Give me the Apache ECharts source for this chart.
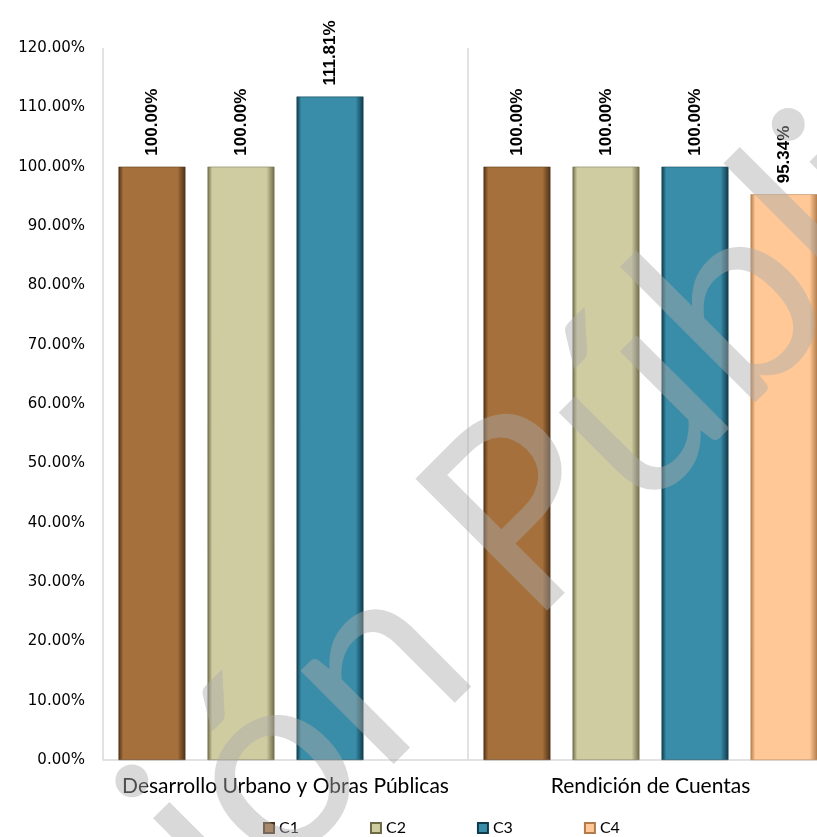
<!DOCTYPE html>
<html>
<head>
<meta charset="utf-8">
<script src="https://cdn.jsdelivr.net/npm/echarts@6/dist/echarts.min.js"></script>
<style>html,body{margin:0;padding:0;background:#fff;overflow:hidden}#c{width:817px;height:837px}</style>
</head>
<body>
<div id="c"></div>
<script>
const categories = ['Desarrollo Urbano y Obras Públicas', 'Rendición de Cuentas'];
const seriesNames = ['C1', 'C2', 'C3', 'C4'];
const c1 = [100, 100];
const c2 = [100, 100];
const c3 = [111.81, 100];
const c4 = [null, 95.34];
const yTicks = {min: 0, max: 120, interval: 10};

const baseColors = ['#a5703b', '#d0cca2', '#3a8da8', '#ffc896'];
const edgeColors = ['#4e3016', '#6e6a48', '#0f3a4a', '#b07a4a'];
function grad(i) {
  return new echarts.graphic.LinearGradient(0, 0, 1, 0, [
    {offset: 0, color: edgeColors[i]},
    {offset: 0.07, color: baseColors[i]},
    {offset: 0.88, color: baseColors[i]},
    {offset: 1, color: edgeColors[i]}
  ]);
}
const values = [c1, c2, c3, c4];
const chart = echarts.init(document.getElementById('c'));
chart.setOption({
  animation: false,
  grid: {left: 103, width: 730, top: 48, bottom: 77, containLabel: false, outerBoundsMode: 'none'},
  legend: {
    top: 815, left: 258, itemGap: 71, itemWidth: 10, itemHeight: 10,
    icon: 'rect',
    textStyle: {fontFamily: 'Lato', fontSize: 16, color: '#000'},
    data: seriesNames
  },
  xAxis: {
    type: 'category', data: categories,
    axisLine: {show: true, lineStyle: {color: '#d9d9d9', width: 1.5}},
    axisTick: {show: false},
    splitLine: {show: true, lineStyle: {color: '#d9d9d9', width: 1.5}},
    axisLabel: {fontFamily: 'Lato', fontSize: 21, color: '#000', margin: 16, interval: 0}
  },
  yAxis: {
    type: 'value', min: yTicks.min, max: yTicks.max, interval: yTicks.interval,
    axisLine: {show: false}, axisTick: {show: false}, splitLine: {show: false},
    axisLabel: {fontFamily: 'DejaVu Sans', fontSize: 15, color: '#000', margin: 18,
      formatter: v => v.toFixed(2) + '%'}
  },
  series: seriesNames.map((n, i) => ({
    name: n, type: 'bar', data: values[i],
    barGap: '33%', barCategoryGap: '8.5%',
    itemStyle: {color: grad(i), borderColor: edgeColors[i], borderWidth: 0.5},
    label: {
      show: true, position: 'top', rotate: 90, align: 'left', verticalAlign: 'middle',
      distance: 11, fontFamily: 'Liberation Sans', fontWeight: 'bold', fontSize: 17, color: '#000',
      formatter: p => p.value == null ? '' : p.value.toFixed(2) + '%'
    }
  })),
  graphic: [{
    type: 'text', x: 436, y: 603, rotation: Math.PI / 4, z: 100, silent: true,
    style: {
      text: 'Versión Pública', x: 0, y: 0, textAlign: 'center', textVerticalAlign: 'middle',
      fontFamily: 'Lato', fontWeight: 'normal', fontSize: 260, fill: 'rgba(170,170,170,0.45)'
    }
  }]
});
</script>
</body>
</html>
